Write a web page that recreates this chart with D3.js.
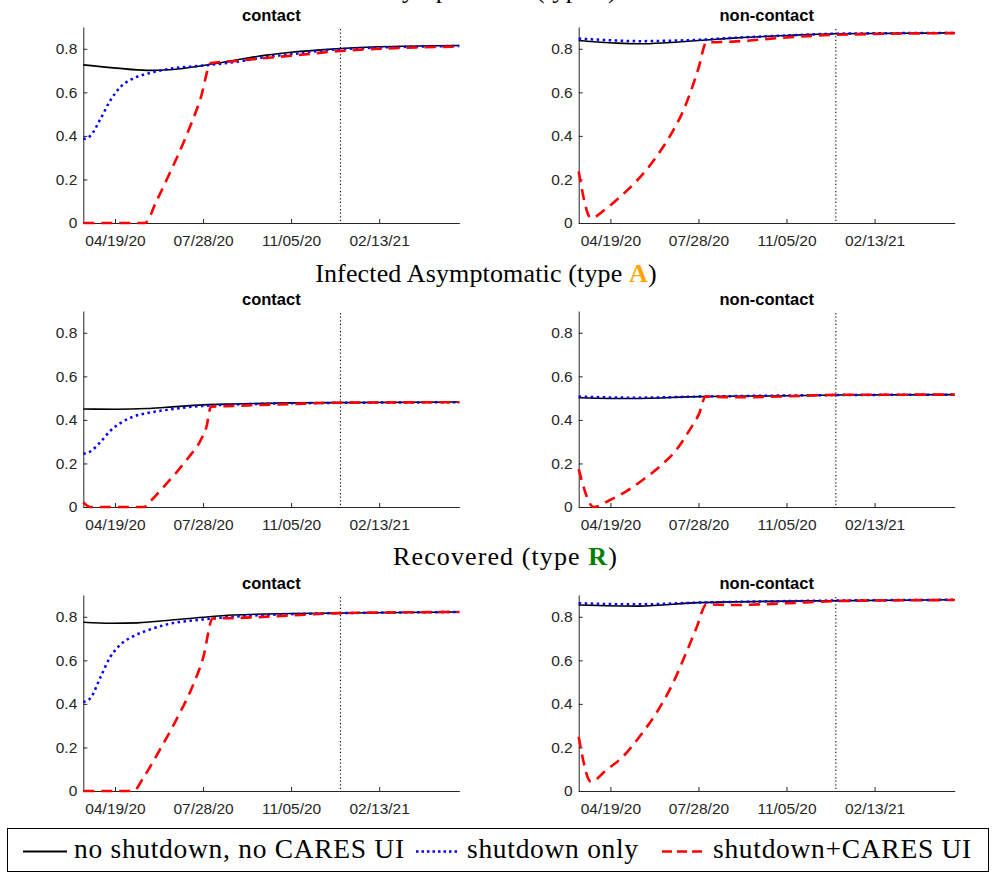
<!DOCTYPE html>
<html>
<head>
<meta charset="utf-8">
<script src="https://cdn.jsdelivr.net/npm/d3@7"></script>
<style>
  html, body { margin: 0; padding: 0; background: #fff; }
  svg { display: block; }
</style>
</head>
<body>
<div id="chart"></div>
<script>
// ---------------- DATA ----------------
const xTickLabels = ["2020-04-19", "2020-07-28", "2020-11-05", "2021-02-13"];
const yTickValues = [0, 0.2, 0.4, 0.6, 0.8];
const dateRange = ["2020-03-14", "2021-05-15"];
const markerDate = "2020-12-31";
const seriesNames = ["no shutdown, no CARES UI", "shutdown only", "shutdown+CARES UI"];
const panelTitles = ["contact", "non-contact"];

// Row 1: Infected Symptomatic (type I)
const iConNone = [["2020-03-14",0.726],["2020-04-21",0.711],["2020-05-25",0.701],["2020-06-24",0.705],["2020-07-28",0.723],["2020-08-31",0.746],["2020-10-08",0.771],["2020-11-05",0.784],["2020-12-08",0.795],["2020-12-31",0.801],["2021-02-13",0.809],["2021-05-15",0.815]];
const iConShut = [["2020-03-14",0.385],["2020-03-22",0.400],["2020-04-02",0.474],["2020-04-13",0.558],["2020-04-25",0.624],["2020-05-10",0.665],["2020-05-25",0.685],["2020-06-17",0.706],["2020-07-28",0.723],["2020-08-31",0.738],["2020-10-08",0.762],["2020-11-05",0.775],["2020-12-31",0.798],["2021-05-15",0.813]];
const iConCares = [["2020-03-14",0],["2020-05-23",0],["2020-06-05",0.10],["2020-06-18",0.21],["2020-07-09",0.40],["2020-07-25",0.57],["2020-08-06",0.734],["2020-08-31",0.743],["2020-10-08",0.758],["2020-11-05",0.768],["2020-12-31",0.790],["2021-02-13",0.800],["2021-05-15",0.810]];
const iNonNone = [["2020-03-14",0.838],["2020-04-26",0.826],["2020-05-22",0.823],["2020-06-22",0.828],["2020-07-28",0.838],["2020-09-05",0.849],["2020-11-05",0.861],["2020-12-31",0.869],["2021-05-15",0.873]];
const iNonShut = [["2020-03-14",0.847],["2020-04-26",0.838],["2020-05-22",0.835],["2020-06-22",0.837],["2020-07-28",0.841],["2020-09-05",0.850],["2020-11-05",0.861],["2020-12-31",0.869],["2021-05-15",0.873]];
const iNonCares = [["2020-03-14",0.237],["2020-03-28",0.023],["2020-04-14",0.065],["2020-04-30",0.12],["2020-05-18",0.19],["2020-06-03",0.265],["2020-06-18",0.35],["2020-06-30",0.43],["2020-07-09",0.50],["2020-07-18",0.59],["2020-07-28",0.71],["2020-08-06",0.829],["2020-09-05",0.833],["2020-11-05",0.852],["2020-12-31",0.864],["2021-05-15",0.872]];

// Row 2: Infected Asymptomatic (type A)
const aConNone = [["2020-03-14",0.450],["2020-04-20",0.449],["2020-05-25",0.452],["2020-06-17",0.458],["2020-07-28",0.469],["2020-08-31",0.473],["2020-11-05",0.478],["2021-05-15",0.482]];
const aConShut = [["2020-03-14",0.244],["2020-03-22",0.255],["2020-04-02",0.296],["2020-04-13",0.347],["2020-04-25",0.385],["2020-05-10",0.415],["2020-05-29",0.434],["2020-06-17",0.446],["2020-07-28",0.464],["2020-11-05",0.476],["2021-05-15",0.481]];
const aConCares = [["2020-03-14",0.021],["2020-03-22",0],["2020-05-22",0],["2020-05-30",0.03],["2020-06-15",0.10],["2020-06-29",0.165],["2020-07-11",0.225],["2020-07-25",0.305],["2020-08-01",0.37],["2020-08-06",0.461],["2020-08-31",0.464],["2020-11-05",0.473],["2020-12-31",0.479],["2021-05-15",0.481]];
const aNonNone = [["2020-03-14",0.502],["2020-05-15",0.498],["2020-07-28",0.507],["2020-11-05",0.511],["2020-12-31",0.514],["2021-05-15",0.516]];
const aNonShut = [["2020-03-14",0.507],["2020-05-15",0.502],["2020-07-28",0.507],["2020-11-05",0.512],["2021-05-15",0.516]];
const aNonCares = [["2020-03-14",0.174],["2020-03-31",0],["2020-04-18",0.031],["2020-05-07",0.072],["2020-05-26",0.125],["2020-06-14",0.186],["2020-07-03",0.263],["2020-07-18",0.354],["2020-07-29",0.431],["2020-08-05",0.507],["2020-09-05",0.504],["2020-11-05",0.508],["2020-12-31",0.515],["2021-05-15",0.516]];

// Row 3: Recovered (type R)
const rConNone = [["2020-03-14",0.775],["2020-04-15",0.770],["2020-05-15",0.772],["2020-06-17",0.783],["2020-07-28",0.798],["2020-08-31",0.808],["2020-11-05",0.815],["2021-05-15",0.822]];
const rConShut = [["2020-03-14",0.408],["2020-03-22",0.426],["2020-04-02",0.518],["2020-04-13",0.611],["2020-04-25",0.672],["2020-05-10",0.711],["2020-05-29",0.742],["2020-06-17",0.765],["2020-07-28",0.788],["2020-08-31",0.800],["2020-11-05",0.812],["2021-05-15",0.822]];
const rConCares = [["2020-03-14",0],["2020-05-10",0],["2020-05-21",0.06],["2020-06-09",0.19],["2020-06-28",0.33],["2020-07-17",0.49],["2020-07-28",0.61],["2020-08-08",0.792],["2020-08-31",0.794],["2020-11-05",0.806],["2020-12-31",0.817],["2021-05-15",0.822]];
const rNonNone = [["2020-03-14",0.854],["2020-05-22",0.849],["2020-07-28",0.865],["2020-11-05",0.872],["2021-05-15",0.878]];
const rNonShut = [["2020-03-14",0.862],["2020-05-22",0.857],["2020-07-28",0.865],["2020-11-05",0.872],["2021-05-15",0.878]];
const rNonCares = [["2020-03-14",0.249],["2020-03-28",0.042],["2020-04-14",0.095],["2020-05-03",0.157],["2020-05-22",0.249],["2020-06-10",0.357],["2020-06-29",0.495],["2020-07-14",0.634],["2020-07-26",0.752],["2020-08-06",0.857],["2020-09-05",0.854],["2020-11-05",0.862],["2020-12-31",0.872],["2021-05-15",0.877]];

// ---------------- LAYOUT / STYLE ----------------
const W = 995, H = 873;
const PW = 376, PH = 196;
const colX = [83.3, 578.7];
const rowTop = [27, 311, 595];
const styles = [
  { color: "#000000", width: 1.6, dash: null },
  { color: "#0000ff", width: 2.5, dash: "2.5,3.5" },
  { color: "#ff0000", width: 2.6, dash: "11,7" }
];
const axisColor = "#262626";

const parse = d3.timeParse("%Y-%m-%d");
const fmt = d3.timeFormat("%m/%d/%y");

const svg = d3.select("#chart").append("svg")
  .attr("width", W).attr("height", H)
  .style("background", "#fff");

const x = d3.scaleTime().domain(dateRange.map(parse)).range([0, PW]);
const y = d3.scaleLinear().domain([0, 0.9]).range([PH, 0]);

const line = d3.line()
  .x(d => x(parse(d[0])))
  .y(d => y(d[1]))
  .curve(d3.curveMonotoneX);

const panels = [
  { row: 0, col: 0, series: [iConNone, iConShut, iConCares] },
  { row: 0, col: 1, series: [iNonNone, iNonShut, iNonCares] },
  { row: 1, col: 0, series: [aConNone, aConShut, aConCares] },
  { row: 1, col: 1, series: [aNonNone, aNonShut, aNonCares] },
  { row: 2, col: 0, series: [rConNone, rConShut, rConCares] },
  { row: 2, col: 1, series: [rNonNone, rNonShut, rNonCares] }
];

panels.forEach(p => {
  const g = svg.append("g").attr("transform", `translate(${colX[p.col]},${rowTop[p.row]})`);

  const yAxis = d3.axisLeft(y).tickValues(yTickValues)
    .tickFormat(d => d === 0 ? "0" : d3.format(".1f")(d))
    .tickSizeInner(-4).tickSizeOuter(0).tickPadding(6);
  const xAxis = d3.axisBottom(x).tickValues(xTickLabels.map(parse))
    .tickFormat(fmt).tickSizeInner(-4).tickSizeOuter(0).tickPadding(12);

  const gy = g.append("g").call(yAxis);
  const gx = g.append("g").attr("transform", `translate(0,${PH})`).call(xAxis);
  [gx, gy].forEach(a => {
    a.attr("font-family", "'Liberation Sans', Arial, sans-serif").attr("font-size", 15.5);
    a.selectAll("path, line").attr("stroke", axisColor).attr("stroke-width", 1);
    a.selectAll("text").attr("fill", axisColor);
  });

  g.append("line")
    .attr("x1", x(parse(markerDate))).attr("x2", x(parse(markerDate)))
    .attr("y1", 2).attr("y2", PH)
    .attr("stroke", "#000").attr("stroke-width", 1.1)
    .attr("stroke-dasharray", "1.2,2.4");

  p.series.forEach((s, i) => {
    const path = g.append("path").datum(s)
      .attr("d", line)
      .attr("fill", "none")
      .attr("stroke", styles[i].color)
      .attr("stroke-width", styles[i].width);
    if (styles[i].dash) path.attr("stroke-dasharray", styles[i].dash);
  });

  g.append("text")
    .attr("x", PW / 2).attr("y", -6.5)
    .attr("text-anchor", "middle")
    .attr("font-family", "'Liberation Sans', Arial, sans-serif")
    .attr("font-weight", "bold").attr("font-size", 16.5)
    .attr("fill", "#000")
    .text(panelTitles[p.col]);
});

// ---------------- SECTION TITLES ----------------
const sections = [
  { pre: "Infected Symptomatic (type ", key: "I", post: ")", color: "#ff0000", x: 617, y: -2, anchor: "end", ls: 0.3 },
  { pre: "Infected Asymptomatic (type ", key: "A", post: ")", color: "#ffa500", x: 486, y: 281.5, anchor: "middle", ls: 0.15 },
  { pre: "Recovered (type ", key: "R", post: ")", color: "#008000", x: 505.5, y: 565, anchor: "middle", ls: 1.1 }
];
sections.forEach(s => {
  const t = svg.append("text")
    .attr("x", s.x).attr("y", s.y)
    .attr("text-anchor", s.anchor)
    .attr("font-family", "'Liberation Serif', 'Times New Roman', serif")
    .attr("font-size", 26).attr("fill", "#000")
    .attr("letter-spacing", s.ls);
  t.append("tspan").text(s.pre);
  t.append("tspan").attr("font-weight", "bold").attr("fill", s.color).text(s.key);
  t.append("tspan").text(s.post);
});

// ---------------- LEGEND ----------------
const lg = svg.append("g");
lg.append("rect")
  .attr("x", 7.5).attr("y", 828.5).attr("width", 981).attr("height", 43)
  .attr("fill", "#fff").attr("stroke", "#000").attr("stroke-width", 1);
const legendX = [23, 416, 662];
seriesNames.forEach((name, i) => {
  const lx = legendX[i];
  const l = lg.append("line")
    .attr("x1", lx).attr("x2", lx + 44)
    .attr("y1", 851.5).attr("y2", 851.5)
    .attr("stroke", styles[i].color)
    .attr("stroke-width", i === 0 ? 2 : styles[i].width);
  if (i === 1) l.attr("stroke-dasharray", "2.5,3");
  if (i === 2) l.attr("stroke-dasharray", "10,5");
  lg.append("text")
    .attr("x", lx + 51).attr("y", 858)
    .attr("font-family", "'Liberation Serif', 'Times New Roman', serif")
    .attr("font-size", 27.5).attr("letter-spacing", 0.7).attr("fill", "#000")
    .text(name);
});
</script>
</body>
</html>
